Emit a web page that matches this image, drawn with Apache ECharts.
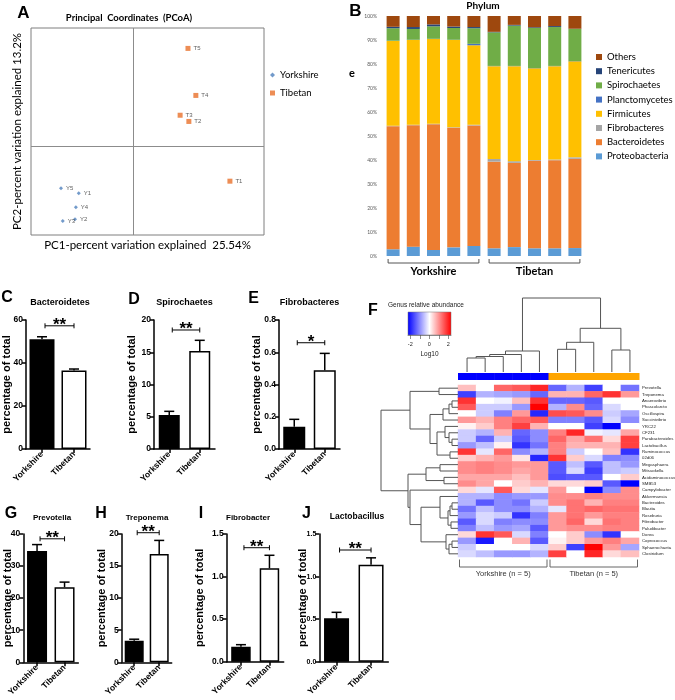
<!DOCTYPE html>
<html><head><meta charset="utf-8">
<script src="https://cdn.jsdelivr.net/npm/echarts@6/dist/echarts.min.js"></script>
<style>html,body{margin:0;padding:0;background:#fff}#c{width:675px;height:700px}</style>
</head><body><div id="c"></div><script>
// ================= DATA =================
// Panel A: PCoA coordinates
const pcoaYorkshire = [[-0.186,-0.159,'Y1'],[-0.199,-0.247,'Y2'],[-0.241,-0.253,'Y3'],[-0.196,-0.206,'Y4'],[-0.247,-0.142,'Y5']];
const pcoaTibetan = [[0.333,-0.118,'T1'],[0.192,0.084,'T2'],[0.162,0.105,'T3'],[0.216,0.172,'T4'],[0.189,0.331,'T5']];

// Panel B: phylum composition (%)
const phylumSamples = ['Y1','Y2','Y3','Y4','Y5','T1','T2','T3','T4','T5'];
const proteobacteria = [2.8,3.9,2.5,3.6,4.2,3.2,3.7,3.2,3.2,3.3];
const bacteroidetes  = [51.3,50.6,52.4,49.8,50.2,36.1,35.1,36.5,36.7,37.2];
const fibrobacteres  = [0.2,0.2,0.2,0.2,0.3,1.1,0.7,0.3,0.3,0.6];
const firmicutes     = [35.3,35.3,35.3,36.4,33.1,38.7,39.6,38.2,38.9,40.0];
const planctomycetes = [0.1,0.1,0.1,0.1,0.6,0.1,0.1,0.1,0.1,0.1];
const spirochaetes   = [5.2,4.5,5.2,4.9,6.5,14.0,16.8,16.7,16.2,13.4];
const tenericutes    = [0.6,0.8,0.8,0.6,0.5,0.2,0.3,0.3,0.4,0.1];
const others         = [4.5,4.6,3.5,4.4,4.6,6.6,3.7,4.7,4.2,5.3];
const phylumNames = ['Proteobacteria','Bacteroidetes','Fibrobacteres','Firmicutes','Planctomycetes','Spirochaetes','Tenericutes','Others'];
const phylumValues = [proteobacteria,bacteroidetes,fibrobacteres,firmicutes,planctomycetes,spirochaetes,tenericutes,others];
const phylumGroupNames = ['Yorkshire','Tibetan'];
const phylumGroupRanges = [[0,4],[5,9]];

// Panels C-J: mean and SEM (% of total)
const barGroups = ['Yorkshire','Tibetan'];
const bacteroidetesMean = [51.0,36.5],  bacteroidetesSem = [1.2,0.7];
const spirochaetesMean  = [5.27,15.2],  spirochaetesSem  = [0.57,1.65];
const fibrobacteresMean = [0.138,0.488],fibrobacteresSem = [0.046,0.105];
const prevotellaMean    = [34.7,23.4],  prevotellaSem    = [2.0,1.6];
const treponemaMean     = [3.37,16.9],  treponemaSem     = [0.23,2.1];
const fibrobacterMean   = [0.176,1.097],fibrobacterSem   = [0.024,0.153];
const lactobacillusMean = [0.51,1.14],  lactobacillusSem = [0.07,0.08];
const panelTitles = ['Bacteroidetes','Spirochaetes','Fibrobacteres','Prevotella','Treponema','Fibrobacter','Lactobacillus'];
const panelMeans = [bacteroidetesMean,spirochaetesMean,fibrobacteresMean,prevotellaMean,treponemaMean,fibrobacterMean,lactobacillusMean];
const panelSems  = [bacteroidetesSem,spirochaetesSem,fibrobacteresSem,prevotellaSem,treponemaSem,fibrobacterSem,lactobacillusSem];
const panelSigLevel = [57.3,18.45,0.659,38.5,20.2,1.339,1.312];
const panelSigStars = ['**','**','*','**','**','**','**'];
const panelAxisMax = [60,20,0.8,40,20,1.5,1.5];
const panelAxisInterval = [20,5,0.2,10,5,0.5,0.5];
const panelAxisDecimals = [0,0,1,0,0,1,1];

// Panel F: heatmap (log10 relative abundance, scaled)
const heatSamples = ['Y1','Y2','Y3','Y4','Y5','T1','T2','T3','T4','T5'];
const heatSampleGroup = [0,0,0,0,0,1,1,1,1,1];
const heatGroupLabels = ['Yorkshire (n = 5)','Tibetan (n = 5)'];
const heatGroupRanges = [[0,4],[5,9]];
const genera = ['Prevotella','Treponema','Anaerovibrio','Phascolarcto','Oscillospira','Succinivibrio','YRC22','CF231','Parabacteroides','Lactobacillus','Ruminococcus','02d06','Megasphaera','Mitsuokella','Acidaminococcus','SMB53','Campylobacter','Akkermansia','Bacteroides','Blautia','Roseburia','Fibrobacter','Paludibacter','Dorea','Coprococcus','Sphaerochaeta','Clostridium'];
const heatValues = [
 [0.5,0,1.2,1.3,1.7,-1.2,-0.6,-1.5,0,-1.1],
 [-1.5,-0.6,-0.7,-0.8,-1.2,0.6,0.6,1.2,1.6,0.8],
 [1.6,0,-0.1,0.5,1.6,-1.2,-1.2,-1.3,0,0],
 [1.3,-0.4,-0.4,-0.8,2.0,-0.6,0.9,-1.2,-0.3,0],
 [0,-0.4,-1.0,0.8,-1.7,1.4,1.3,0.9,-0.4,-0.7],
 [0.8,0.6,1.0,1.2,1.3,-1.0,-1.0,-1.3,-0.3,-0.9],
 [0.1,0.4,1.0,1.5,0.6,0,0,-1.5,-2.0,0],
 [-0.4,-0.6,0.6,-1.2,-0.9,1.0,1.7,-0.1,-0.2,0.7],
 [-0.4,-1.2,-0.4,-1.3,-0.9,1.2,0.7,1.1,0.3,1.5],
 [-0.8,-0.5,0.1,-1.6,-1.1,1.0,0.6,0.6,0.6,1.5],
 [1.6,-0.2,1.2,-0.9,-0.6,1.0,-0.4,0,0.5,-1.6],
 [0.4,0.6,0.8,0.2,-1.7,1.6,0.4,-0.3,-1.0,-0.9],
 [0.9,1.0,0.9,0.8,0.8,-1.3,-0.5,-1.3,-0.5,-0.8],
 [0.9,1.0,0.9,0.7,0.8,-1.3,-0.3,-1.5,-0.5,-0.4],
 [0.7,0.7,0.7,0.5,0.8,-1.4,-1.3,-1.3,0,0.4],
 [0.9,0.7,0,0.4,0.6,0.3,0.3,0.4,-1.3,-2.0],
 [0.3,-0.2,1.3,0.3,-0.2,0.8,0,-2.0,-0.9,0.9],
 [-0.6,-0.6,-0.9,-0.8,-0.8,0.9,0.9,1.0,0.9,0.9],
 [-0.6,-1.3,-0.9,-1.1,-0.4,0.9,1.1,0.6,1.0,1.0],
 [-1.1,-0.5,-0.9,-0.9,-0.6,-0.2,1.1,1.2,1.1,1.1],
 [-0.8,-0.3,-0.4,-1.6,-1.0,0.8,1.1,0.8,1.0,1.0],
 [-1.3,-0.3,-1.0,-0.9,-0.9,0.8,1.2,0.3,1.1,1.0],
 [-1.0,-0.5,-0.8,-0.7,-1.3,0.8,0.9,0.9,1.0,1.0],
 [0.3,1.6,1.3,-0.3,-1.0,0,0.4,-0.9,-1.6,0],
 [-0.8,-1.8,0,0.6,-1.3,0.1,0.4,0.8,1.0,0.7],
 [-0.4,0,0,0,-0.3,0.4,-1.5,2.0,0.8,-0.7],
 [-0.3,-0.5,-0.8,-0.8,-0.6,1.5,0,1.7,0.3,0.5]
];
// dendrogram linkages: [childA, childB, height]; children >= n are earlier merges
const rowLinkage = [
 [0,1,19],[2,3,6],[28,4,9],[29,5,15],[8,9,6],[7,31,9],[6,32,13],[10,11,8],[33,34,21],[30,35,28],[27,36,48],
 [12,13,18],[14,15,14],[38,39,32],[18,19,6],[41,20,8],[21,22,7],[42,43,10],[17,44,18],[24,25,6],[46,26,9],[23,47,12],[45,48,37],[16,49,48],[40,50,50],[37,51,77]
];
const colLinkage = [[0,1,14],[10,2,15.5],[11,3,17.5],[12,4,21],[5,6,22.7],[14,7,29.7],[8,9,22],[15,16,43.7],[13,17,74]];

// ================= STYLE / LAYOUT =================
const phylumColors = ['#5B9BD5','#ED7D31','#A5A5A5','#FFC000','#4472C4','#70AD47','#264478','#9E480E'];
const groupStripColors = ['#0000FF','#FFA500'];
const panelLayout = [
 {left:26,top:320,width:64,height:129,barWidth:25,nameGap:13.5,labelSize:8.5},
 {left:154,top:320,width:61,height:129,barWidth:21,nameGap:16.5,labelSize:8.5},
 {left:279,top:320,width:61,height:129,barWidth:22,nameGap:16.5,labelSize:8.5},
 {left:23.3,top:534,width:55,height:128.3,barWidth:20,nameGap:9.5,labelSize:8.5},
 {left:121.7,top:534,width:50,height:128.3,barWidth:19,nameGap:14.5,labelSize:8.5},
 {left:226.7,top:534,width:57,height:127.7,barWidth:19.5,nameGap:21,labelSize:8.5},
 {left:319.3,top:534,width:69,height:127.7,barWidth:25,nameGap:10.5,labelSize:7}
];
const panelTitlePos = [[60,303,9],[184.5,303,9],[309.5,303,9],[52,518,8],[147,518,8],[248,518,8],[357,516.5,8.5]];
const letters = [['A',23.5,13,17],['B',355.5,11,17],['C',7,298,16],['D',134,300,16],['E',253.5,299,16],['F',373,311,16],['G',11,514,16],['H',101,514,16],['I',201,514,16],['J',306.5,514,16]];
const AR = 'Liberation Sans', CAL = 'Lato';

// ================= BUILD =================
function dendroSegments(linkage, n){
  const pos=[], ht=[], segs=[];
  for(let i=0;i<n;i++){pos[i]=i+0.5;ht[i]=0;}
  linkage.forEach(([a,b,h],k)=>{const id=n+k;pos[id]=(pos[a]+pos[b])/2;ht[id]=h;segs.push([pos[a],pos[b],ht[a],ht[b],h]);});
  return segs;
}
function dendroRender(horizontal){
  return function(params, api){
    const a=api.value(0), b=api.value(1), ha=api.value(2), hb=api.value(3), h=api.value(4);
    const P=(p,t)=>horizontal?api.coord([t,p]):api.coord([p,t]);
    return {type:'polyline', shape:{points:[P(a,ha),P(a,h),P(b,h),P(b,hb)]}, style:{stroke:'#555',lineWidth:1,fill:null}};
  };
}
function txt(text,x,y,size,weight,family,opts){
  opts=opts||{};
  return {type:'text', x:x, y:y, rotation:opts.rotation||0, z:100,
    style:{text:text, fill:opts.fill||'#000', fontSize:size, fontWeight:weight, fontFamily:family,
      align:opts.align||'center', verticalAlign:'middle', textAlign:opts.align||'center', textVerticalAlign:'middle'}};
}

const grids=[], xAxes=[], yAxes=[], series=[];
const none={show:false};
// --- A ---
grids.push({left:31,top:28,width:233,height:207,show:true,borderColor:'#7f7f7f',borderWidth:1,backgroundColor:'transparent',outerBoundsMode:'none'});
xAxes.push({gridIndex:0,type:'value',min:-0.35,max:0.45,axisLine:none,axisTick:none,axisLabel:none,splitLine:none,nameMoveOverlap:false,
  name:'PC1-percent variation explained  25.54%',nameLocation:'middle',nameGap:4,nameTextStyle:{fontFamily:CAL,fontSize:11.5,color:'#000'}});
yAxes.push({gridIndex:0,type:'value',min:-0.3,max:0.4,axisLine:none,axisTick:none,axisLabel:none,splitLine:none,nameMoveOverlap:false,
  name:'PC2-percent variation explained 13.2%',nameLocation:'middle',nameGap:8,nameTextStyle:{fontFamily:CAL,fontSize:11.5,color:'#000'}});
const ptLabel={show:true,position:'right',distance:3,formatter:p=>p.data[2],fontSize:6,color:'#333',fontFamily:AR};
series.push({name:'Yorkshire',type:'scatter',xAxisIndex:0,yAxisIndex:0,symbol:'diamond',symbolSize:4,itemStyle:{color:'#4F81BD'},label:ptLabel,data:pcoaYorkshire,
  markLine:{silent:true,symbol:'none',label:none,lineStyle:{color:'#8c8c8c',width:1,type:'solid'},data:[{xAxis:0},{yAxis:0}]}});
series.push({name:'Tibetan',type:'scatter',xAxisIndex:0,yAxisIndex:0,symbol:'rect',symbolSize:5,itemStyle:{color:'#E8702A'},label:ptLabel,data:pcoaTibetan});
// --- B ---
grids.push({left:383,top:16,width:202,height:240,outerBoundsMode:'none'});
xAxes.push({gridIndex:1,type:'category',data:phylumSamples,show:false});
yAxes.push({gridIndex:1,type:'value',min:0,max:100,interval:10,axisLine:none,axisTick:none,splitLine:none,
  axisLabel:{formatter:'{value}%',fontSize:5,color:'#595959',margin:6,fontFamily:CAL}});
phylumNames.forEach((nm,i)=>series.push({name:nm,type:'bar',stack:'phylum',xAxisIndex:1,yAxisIndex:1,barWidth:13,
  itemStyle:{color:phylumColors[i]},data:phylumValues[i]}));
series.push({type:'custom',xAxisIndex:1,yAxisIndex:1,clip:false,silent:true,data:phylumGroupRanges,
  renderItem:(params,api)=>{
    const c0=api.coord([api.value(0),0]), c1=api.coord([api.value(1),0]);
    const x1=c0[0]-5, x2=c1[0]+5, y=c0[1]+7;
    return {type:'group',children:[
      {type:'polyline',shape:{points:[[x1,y-4],[x1,y],[x2,y],[x2,y-4]]},style:{stroke:'#555',lineWidth:1,fill:null}},
      txt(phylumGroupNames[params.dataIndex],(x1+x2)/2,y+8.5,11,'bold',CAL)
    ]};
  }});
// --- C..J ---
panelMeans.forEach((mean,k)=>{
  const gi=grids.length, L=panelLayout[k], dec=panelAxisDecimals[k];
  grids.push({left:L.left,top:L.top,width:L.width,height:L.height,outerBoundsMode:'none'});
  xAxes.push({gridIndex:gi,type:'category',data:barGroups,
    axisLine:{show:true,lineStyle:{color:'#000',width:1.5}},
    axisTick:{show:true,alignWithLabel:true,length:4,lineStyle:{color:'#000',width:1.5}},
    axisLabel:{rotate:45,interval:0,fontWeight:'bold',fontSize:8.5,color:'#000',margin:4,fontFamily:AR}});
  yAxes.push({gridIndex:gi,type:'value',min:0,max:panelAxisMax[k],interval:panelAxisInterval[k],
    axisLine:{show:true,lineStyle:{color:'#000',width:1.5}},
    axisTick:{show:true,length:4,lineStyle:{color:'#000',width:1.5}},
    axisLabel:{fontWeight:'bold',fontSize:L.labelSize,color:'#000',margin:3,fontFamily:AR,formatter:v=>v.toFixed(dec)},
    splitLine:none,name:'percentage of total',nameLocation:'middle',nameRotate:90,nameGap:L.nameGap,nameMoveOverlap:false,
    nameTextStyle:{fontWeight:'bold',fontSize:11,color:'#000',fontFamily:AR}});
  series.push({type:'bar',xAxisIndex:gi,yAxisIndex:gi,barWidth:L.barWidth,
    data:mean.map((v,i)=>({value:v,itemStyle:i===0?{color:'#000',borderColor:'#000',borderWidth:1.5}:{color:'#fff',borderColor:'#000',borderWidth:1.5}}))});
  const sem=panelSems[k];
  series.push({type:'custom',xAxisIndex:gi,yAxisIndex:gi,clip:false,silent:true,z:5,
    data:mean.map((v,i)=>[i,v,v+sem[i]]),
    renderItem:(params,api)=>{
      const p0=api.coord([api.value(0),api.value(1)]), p1=api.coord([api.value(0),api.value(2)]);
      return {type:'group',children:[
        {type:'line',shape:{x1:p0[0],y1:p0[1],x2:p1[0],y2:p1[1]},style:{stroke:'#000',lineWidth:1.5}},
        {type:'line',shape:{x1:p1[0]-5,y1:p1[1],x2:p1[0]+5,y2:p1[1]},style:{stroke:'#000',lineWidth:1.5}}]};
    }});
  series.push({type:'custom',xAxisIndex:gi,yAxisIndex:gi,clip:false,silent:true,z:5,
    data:[[0,1,panelSigLevel[k]]],
    renderItem:(params,api)=>{
      const a=api.coord([api.value(0),api.value(2)]), b=api.coord([api.value(1),api.value(2)]);
      const x1=a[0]+3, x2=b[0], y=a[1];
      return {type:'group',children:[
        {type:'line',shape:{x1:x1,y1:y,x2:x2,y2:y},style:{stroke:'#000',lineWidth:1}},
        {type:'line',shape:{x1:x1,y1:y-2.5,x2:x1,y2:y+2.5},style:{stroke:'#000',lineWidth:1}},
        {type:'line',shape:{x1:x2,y1:y-2.5,x2:x2,y2:y+2.5},style:{stroke:'#000',lineWidth:1}},
        txt(panelSigStars[k],(x1+x2)/2,y-0.5,17,'bold',AR)]};
    }});
});
// --- F heatmap ---
const hg=grids.length;
grids.push({left:458,top:385,width:181,height:172,outerBoundsMode:'none'});
xAxes.push({gridIndex:hg,type:'category',data:heatSamples,show:false});
yAxes.push({gridIndex:hg,type:'category',data:genera,inverse:true,position:'right',axisLine:none,axisTick:none,
  axisLabel:{fontSize:4.3,margin:3,color:'#222',interval:0,fontFamily:AR}});
const heatData=[]; heatValues.forEach((row,r)=>row.forEach((v,c)=>heatData.push([c,r,v])));
const heatSeriesIndex=series.length;
series.push({type:'heatmap',xAxisIndex:hg,yAxisIndex:hg,data:heatData,progressive:0,itemStyle:{borderWidth:0}});
series.push({type:'custom',xAxisIndex:hg,yAxisIndex:hg,clip:false,silent:true,data:heatSampleGroup.map((g,i)=>[i,0,g]),
  renderItem:(params,api)=>{
    const c=api.coord([api.value(0),0]), s=api.size([1,1]);
    return {type:'rect',shape:{x:c[0]-s[0]/2,y:c[1]-s[1]/2-12,width:s[0]+0.5,height:7},style:{fill:groupStripColors[api.value(2)]}};
  }});
series.push({type:'custom',xAxisIndex:hg,yAxisIndex:hg,clip:false,silent:true,data:heatGroupRanges,
  renderItem:(params,api)=>{
    const c0=api.coord([api.value(0),genera.length-1]), c1=api.coord([api.value(1),genera.length-1]), s=api.size([1,1]);
    const x1=c0[0]-s[0]/2+1.5, x2=c1[0]+s[0]/2-1.5, y=c0[1]+s[1]/2+10;
    return {type:'group',children:[
      {type:'polyline',shape:{points:[[x1,y-7.5],[x1,y],[x2,y],[x2,y-7.5]]},style:{stroke:'#666',lineWidth:1,fill:null}},
      txt(heatGroupLabels[params.dataIndex],(x1+x2)/2,y+6.5,7.5,'normal',AR,{fill:'#333'})]};
  }});
// top dendrogram
const tg=grids.length;
grids.push({left:458,top:298,width:181,height:74,outerBoundsMode:'none'});
xAxes.push({gridIndex:tg,type:'value',min:0,max:heatSamples.length,show:false});
yAxes.push({gridIndex:tg,type:'value',min:0,max:74,show:false});
series.push({type:'custom',xAxisIndex:tg,yAxisIndex:tg,clip:false,silent:true,data:dendroSegments(colLinkage,heatSamples.length),renderItem:dendroRender(false)});
// left dendrogram
const lg=grids.length;
grids.push({left:380,top:385,width:78,height:172,outerBoundsMode:'none'});
xAxes.push({gridIndex:lg,type:'value',min:0,max:78,inverse:true,show:false});
yAxes.push({gridIndex:lg,type:'value',min:0,max:genera.length,inverse:true,show:false});
series.push({type:'custom',xAxisIndex:lg,yAxisIndex:lg,clip:false,silent:true,data:dendroSegments(rowLinkage,genera.length),renderItem:dendroRender(true)});
// color key
const kg=grids.length;
grids.push({left:408,top:312,width:43,height:23,outerBoundsMode:'none'});
xAxes.push({gridIndex:kg,type:'value',min:-2.24,max:2.28,nameMoveOverlap:false,
  axisLine:{show:true,lineStyle:{color:'#444',width:0.6}},
  axisTick:{show:true,length:4,lineStyle:{color:'#444',width:0.6},customValues:[-2,-1,0,1,2]},
  axisLabel:{customValues:[-2,0,2],fontSize:5.5,margin:6,color:'#222',fontFamily:AR},splitLine:none,
  name:'Log10',nameLocation:'middle',nameGap:16,nameTextStyle:{fontSize:6.5,color:'#222',fontFamily:AR}});
yAxes.push({gridIndex:kg,type:'value',min:0,max:1,show:false});
series.push({type:'custom',xAxisIndex:kg,yAxisIndex:kg,clip:false,silent:true,data:[[-2.24,2.28]],
  renderItem:(params,api)=>{
    const p0=api.coord([api.value(0),1]), p1=api.coord([api.value(1),0]);
    return {type:'rect',shape:{x:p0[0],y:p0[1],width:p1[0]-p0[0],height:p1[1]-p0[1]},
      style:{stroke:'#777',lineWidth:0.5,fill:new echarts.graphic.LinearGradient(0,0,1,0,[{offset:0,color:'#0000FF'},{offset:0.5,color:'#FFFFFF'},{offset:1,color:'#FF0000'}])}};
  }});

// ---------- graphic texts ----------
const graphics=[];
letters.forEach(([t,x,y,s])=>graphics.push(txt(t,x,y,s,'bold',AR)));
panelTitles.forEach((t,k)=>{const p=panelTitlePos[k];graphics.push(txt(t,p[0],p[1],p[2],'bold',AR));});
graphics.push(txt('Principal  Coordinates  (PCoA)',129,18,9.5,'bold',CAL));
graphics.push(txt('Phylum',483,6,10,'bold',CAL));
graphics.push(txt('e',352,73,11,'bold',CAL));
graphics.push(txt('Genus relative abundance',388,305.5,6.5,'normal',AR,{align:'left',fill:'#222'}));

const option={
  animation:false,backgroundColor:'#fff',textStyle:{fontFamily:AR},
  grid:grids,xAxis:xAxes,yAxis:yAxes,
  legend:[
    {left:265,top:64,orient:'vertical',itemWidth:5,itemHeight:5,itemGap:6,selectedMode:false,
     data:[{name:'Yorkshire',icon:'diamond'},{name:'Tibetan',icon:'rect'}],
     textStyle:{fontFamily:CAL,fontSize:9.5,lineHeight:12,color:'#000'}},
    {left:591,top:47,orient:'vertical',itemWidth:6,itemHeight:6,itemGap:4.2,selectedMode:false,icon:'rect',
     data:phylumNames.slice().reverse(),
     textStyle:{fontFamily:CAL,fontSize:9.5,lineHeight:10,color:'#000'}}
  ],
  visualMap:[{type:'continuous',show:false,min:-2,max:2,seriesIndex:heatSeriesIndex,dimension:2,
    inRange:{color:['#0000FF','#FFFFFF','#FF0000']}}],
  series:series,
  graphic:graphics
};
const chart=echarts.init(document.getElementById('c'),null,{renderer:'canvas',width:675,height:700});
chart.setOption(option);
</script></body></html>
